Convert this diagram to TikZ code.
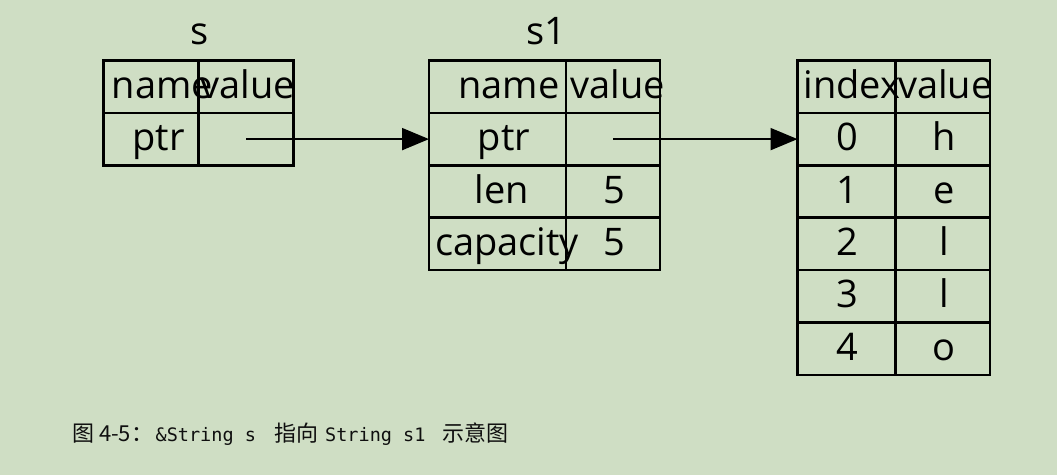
\documentclass[tikz,border=0pt]{standalone}
\usepackage{fontspec}
\setmainfont{Open Sans}
\setmonofont{DejaVu Sans Mono}
\newfontfamily\cjk{Noto Sans CJK SC}
\usetikzlibrary{arrows.meta}
\definecolor{bg}{RGB}{207,222,196}
\definecolor{captxt}{RGB}{15,15,15}
\newcommand\shtxt[2]{\makebox[0pt]{\hspace*{#1pt}#2}}
\begin{document}
\begin{tikzpicture}[x=1pt,y=-1pt,
  cell/.style={draw=black, line width=2.7pt, inner sep=0pt, outer sep=0pt,
    anchor=north west, minimum height=52.4pt, text height=30pt, text depth=7pt,
    font=\fontsize{38}{45}\selectfont},
  title/.style={inner sep=0pt, anchor=base, font=\fontsize{38}{45}\selectfont},
  ptr/.style={line width=2pt, -{Triangle[length=27pt,width=22pt]}},
  captext/.style={inner sep=0pt, anchor=base west, text=captxt},
  cjkcap/.style={captext, font=\cjk\fontsize{22}{26}\selectfont},
  monocap/.style={captext, font=\ttfamily\fontsize{18.5}{22}\selectfont}
]
\fill[bg] (0,0) rectangle (1057,475);
\useasboundingbox (0,0) rectangle (1057,475);

% table s
\node[title] (ts) at (200,44) {s};
\node[cell, minimum width=95pt] (s-n0) at (103.5,60.5) {\shtxt{23}{name}};
\node[cell, minimum width=95pt] (s-v0) at (198.5,60.5) {\shtxt{4}{value}};
\node[cell, minimum width=95pt] (s-n1) at (103.5,112.9) {\shtxt{15}{ptr}};
\node[cell, minimum width=95pt] (s-v1) at (198.5,112.9) {};

% table s1
\node[title] (ts1) at (546,44) {s1};
\node[cell, minimum width=137pt] (s1-n0) at (429,60.5) {\shtxt{23}{name}};
\node[cell, minimum width=94pt] (s1-v0) at (566,60.5) {\shtxt{10}{value}};
\node[cell, minimum width=137pt] (s1-n1) at (429,112.9) {\shtxt{13}{ptr}};
\node[cell, minimum width=94pt] (s1-v1) at (566,112.9) {};
\node[cell, minimum width=137pt] (s1-n2) at (429,165.3) {\shtxt{9}{len}};
\node[cell, minimum width=94pt] (s1-v2) at (566,165.3) {\shtxt{3}{5}};
\node[cell, minimum width=137pt] (s1-n3) at (429,217.7) {\shtxt{19}{capacity}};
\node[cell, minimum width=94pt] (s1-v3) at (566,217.7) {\shtxt{3}{5}};

% table heap
\node[cell, minimum width=98pt] (h-i0) at (797.5,60.5) {\shtxt{11}{index}};
\node[cell, minimum width=94.5pt] (h-v0) at (895.5,60.5) {\shtxt{5}{value}};
\node[cell, minimum width=98pt] (h-i1) at (797.5,112.9) {\shtxt{1}{0}};
\node[cell, minimum width=94.5pt] (h-v1) at (895.5,112.9) {\shtxt{3}{h}};
\node[cell, minimum width=98pt] (h-i2) at (797.5,165.3) {\shtxt{1}{1}};
\node[cell, minimum width=94.5pt] (h-v2) at (895.5,165.3) {\shtxt{3}{e}};
\node[cell, minimum width=98pt] (h-i3) at (797.5,217.7) {\shtxt{1}{2}};
\node[cell, minimum width=94.5pt] (h-v3) at (895.5,217.7) {\shtxt{3}{l}};
\node[cell, minimum width=98pt] (h-i4) at (797.5,270.1) {\shtxt{1}{3}};
\node[cell, minimum width=94.5pt] (h-v4) at (895.5,270.1) {\shtxt{3}{l}};
\node[cell, minimum width=98pt] (h-i5) at (797.5,322.5) {\shtxt{1}{4}};
\node[cell, minimum width=94.5pt] (h-v5) at (895.5,322.5) {\shtxt{3}{o}};

% pointers
\draw[ptr] (s-v1.center) -- (s1-n1.west);
\draw[ptr] (s1-v1.center) -- (h-i1.west);

% caption
\node[cjkcap] (c1) at (72,441.5) {图 4-5：};
\node[monocap] (c2) at (155.5,441.5) {\&String s};
\node[cjkcap] (c3) at (274,441.5) {指向};
\node[monocap] (c4) at (325,441.5) {String s1};
\node[cjkcap] (c5) at (442,441.5) {示意图};
\end{tikzpicture}
\end{document}
